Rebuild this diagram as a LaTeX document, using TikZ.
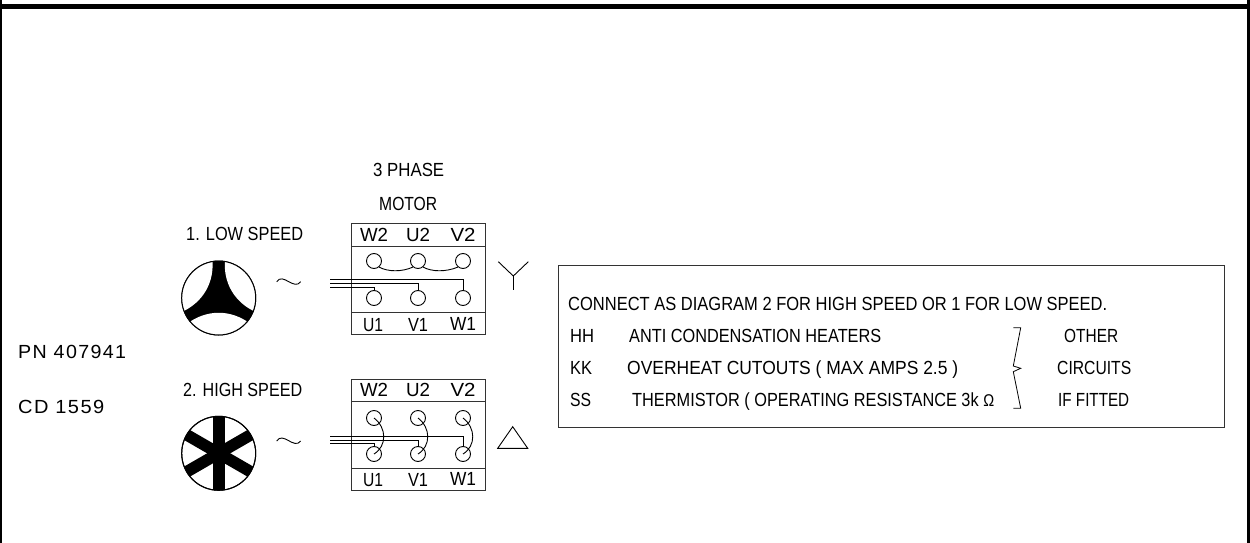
\documentclass[tikz,border=0pt]{standalone}
\usepackage{fontspec}
\setmainfont{Liberation Sans}
\newcommand{\tw}[2]{\resizebox{#1pt}{\height}{#2}}
\tikzset{
  lab/.style={anchor=base west,inner sep=0pt,font=\fontsize{19}{22}\selectfont},
  labc/.style={anchor=base,inner sep=0pt,font=\fontsize{19}{22}\selectfont},
  boxl/.style={draw=black!80,line width=1pt},
  term/.style={draw,circle,line width=0.9pt,minimum size=15pt,inner sep=0pt},
  motor/.style={draw,circle,line width=1pt,minimum size=74pt,inner sep=0pt},
  wire/.style={line width=0.9pt},
  sym/.style={line width=0.9pt},
  spoke/.style={line width=11.6pt}
}
\begin{document}
\begin{tikzpicture}[x=1pt,y=-1pt]
\useasboundingbox (0,0) rectangle (1250,543);
% frame
\draw[line width=4.5pt] (0,6.5) -- (1250,6.5);
\draw[line width=2pt] (1,0) -- (1,543);
\draw[line width=3pt] (1248.5,0) -- (1248.5,543);
% headings
\node[lab] (t3p) at (373,176.7) {\tw{71}{3 PHASE}};
\node[lab] (tmo) at (379,210) {\tw{58}{MOTOR}};
\node[lab] (tlo) at (186,240.7) {\tw{117}{1. LOW SPEED}};
\node[lab] (thi) at (183,396.7) {\tw{119}{2. HIGH SPEED}};
\node[lab] (tpn) at (18,358) {\tw{108}{\addfontfeature{LetterSpace=7}PN 407941}};
\node[lab] (tcd) at (18,413.3) {\tw{86}{\addfontfeature{LetterSpace=7}CD 1559}};
% motor 1
\node[motor] (m1) at (218.7,298) {};
\begin{scope}
\clip (m1) circle (37pt);
\fill (m1) circle (37pt);
\foreach \a in {0,120,240}{
  \fill[white,shift={(218.7,298)},rotate=\a] (-32,26) .. controls (-12,11) and (12,11) .. (32,26) -- (32,50) -- (-32,50) -- cycle;
}
\end{scope}
\draw[line width=1pt] (m1) circle (37pt);
% motor 2
\node[motor] (m2) at (218.7,453.3) {};
\begin{scope}
\clip (m2) circle (37pt);
\foreach \a in {90,30,150}{
  \draw[spoke,shift={(218.7,453.3)},rotate=\a] (-40,0) -- (40,0);
}
\end{scope}
\draw[line width=1pt] (m2) circle (37pt);
% tildes
\coordinate (ta1) at (276.7,281.7);
\coordinate (tb1) at (300.7,281.7);
\draw[sym] (ta1) .. controls (283,272) and (294,291) .. (tb1);
\coordinate (ta2) at (276.7,441);
\coordinate (tb2) at (300.7,441);
\draw[sym] (ta2) .. controls (283,431) and (294,450) .. (tb2);
% terminal box 1
\node[draw=black!80,line width=1pt,minimum width=133.3pt,minimum height=111pt,inner sep=0pt] (b1) at (418.4,278.5) {};
\coordinate (b1tl) at (351.7,246);
\coordinate (b1tr) at (485,246);
\coordinate (b1bl) at (351.7,312.7);
\coordinate (b1br) at (485,312.7);
\draw[boxl] (b1tl) -- (b1tr);
\draw[boxl] (b1bl) -- (b1br);
\node[labc] (aW2) at (374,241.7) {\tw{28}{W2}};
\node[labc] (aU2) at (418,241.7) {\tw{24}{U2}};
\node[labc] (aV2) at (463,241) {\tw{25}{V2}};
\node[labc] (aU1) at (373,331.7) {\tw{20}{U1}};
\node[labc] (aV1) at (418,331.7) {\tw{20}{V1}};
\node[labc] (aW1) at (463,330.3) {\tw{26}{W1}};
\node[term] (c1a) at (374,261) {};
\node[term] (c1b) at (418,261) {};
\node[term] (c1c) at (463,261) {};
\node[term] (d1a) at (374,298) {};
\node[term] (d1b) at (418,298) {};
\node[term] (d1c) at (463,298) {};
\draw[wire] (c1a.-50) .. controls (388,272) and (402,272) .. (c1b.230);
\draw[wire] (c1b.-50) .. controls (432,272) and (446,272) .. (c1c.230);
\coordinate (f1a) at (330,287);
\coordinate (f1b) at (330,283);
\coordinate (f1c) at (330,279);
\draw[wire] (f1a) -| (d1a.north);
\draw[wire] (f1b) -| (d1b.north);
\draw[wire] (f1c) -| (d1c.north);
% star symbol
\coordinate (ya) at (498.3,261.7);
\coordinate (yb) at (528.3,261.7);
\coordinate (yc) at (513.3,276);
\coordinate (yd) at (513.3,290);
\draw[sym] (ya) -- (yc) -- (yb);
\draw[sym] (yc) -- (yd);
% terminal box 2
\node[draw=black!80,line width=1pt,minimum width=133.3pt,minimum height=110.7pt,inner sep=0pt] (b2) at (418.4,434.7) {};
\coordinate (b2tl) at (351.7,401.7);
\coordinate (b2tr) at (485,401.7);
\coordinate (b2bl) at (351.7,468);
\coordinate (b2br) at (485,468);
\draw[boxl] (b2tl) -- (b2tr);
\draw[boxl] (b2bl) -- (b2br);
\node[labc] (eW2) at (374,396.7) {\tw{28}{W2}};
\node[labc] (eU2) at (418,396.7) {\tw{24}{U2}};
\node[labc] (eV2) at (463,396) {\tw{25}{V2}};
\node[labc] (eU1) at (373,486.7) {\tw{20}{U1}};
\node[labc] (eV1) at (418,486.7) {\tw{20}{V1}};
\node[labc] (eW1) at (463,485.3) {\tw{26}{W1}};
\node[term] (c2a) at (374,418) {};
\node[term] (c2b) at (418,418) {};
\node[term] (c2c) at (463,418) {};
\node[term] (d2a) at (374,454) {};
\node[term] (d2b) at (418,454) {};
\node[term] (d2c) at (463,454) {};
\draw[wire] (c2a.center) .. controls (387,428) and (387,446) .. (d2a.center);
\draw[wire] (c2b.center) .. controls (431,428) and (431,446) .. (d2b.center);
\draw[wire] (c2c.center) .. controls (476,428) and (476,446) .. (d2c.center);
\coordinate (f2a) at (330,443);
\coordinate (f2b) at (330,440);
\coordinate (f2c) at (330,436.7);
\draw[wire] (f2a) -| (d2a.north);
\draw[wire] (f2b) -| (d2b.north);
\draw[wire] (f2c) -| (d2c.north);
% delta symbol
\node[draw=none,inner sep=0pt] (da) at (512.7,426.7) {};
\node[draw=none,inner sep=0pt] (db) at (497.7,448.3) {};
\node[draw=none,inner sep=0pt] (dc) at (527.7,448.3) {};
\draw[sym] (da.center) -- (db.center) -- (dc.center) -- cycle;
% notes
\node[draw=black!80,line width=1pt,minimum width=666.3pt,minimum height=162.7pt,inner sep=0pt] (notes) at (891.2,346.4) {};
\node[lab] (n0) at (568,310) {\tw{539}{CONNECT AS DIAGRAM 2 FOR HIGH SPEED OR 1 FOR LOW SPEED.}};
\node[lab] (n1a) at (570,342) {\tw{24}{HH}};
\node[lab] (n1b) at (629,342) {\tw{252}{ANTI CONDENSATION HEATERS}};
\node[lab] (n2a) at (570,374) {\tw{22}{KK}};
\node[lab] (n2b) at (627,374) {\tw{331}{OVERHEAT CUTOUTS ( MAX AMPS 2.5 )}};
\node[lab] (n3a) at (570,406) {\tw{21}{SS}};
\node[lab] (n3b) at (632,406) {\tw{362}{THERMISTOR ( OPERATING RESISTANCE 3k \fontsize{17}{20}\selectfont Ω}};
\coordinate (br1) at (1013.3,327.7);
\coordinate (br2) at (1020.7,327.7);
\coordinate (br3) at (1013.3,366);
\coordinate (br4) at (1020.7,368.3);
\coordinate (br5) at (1013.3,371.7);
\coordinate (br6) at (1020.7,408.3);
\coordinate (br7) at (1013.3,408.3);
\draw[line width=0.8pt] (br1) -- (br2) -- (br3) -- (br4) -- (br5) -- (br6) -- (br7);
\node[lab] (o1) at (1064,342) {\tw{54}{OTHER}};
\node[lab] (o2) at (1057,374) {\tw{74}{CIRCUITS}};
\node[lab] (o3) at (1058,406) {\tw{71}{IF FITTED}};
\end{tikzpicture}
\end{document}
